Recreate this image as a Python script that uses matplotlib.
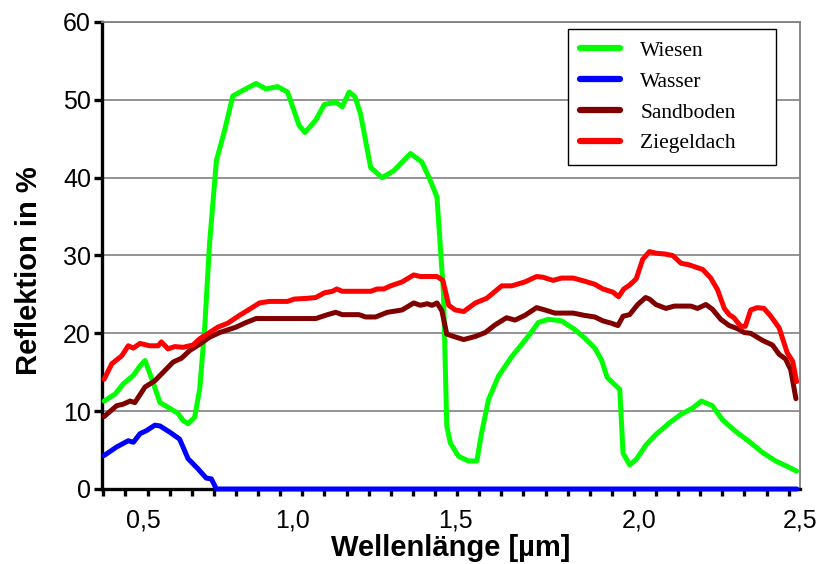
import numpy as np
import matplotlib
matplotlib.use('Agg')
import matplotlib.pyplot as plt

plt.rcParams['font.family'] = ['Liberation Sans', 'DejaVu Sans']

# Spectral reflectance curves (wavelength in µm, reflectance in %)
wiesen_wl = [0.370, 0.407, 0.434, 0.468, 0.490, 0.507, 0.534, 0.557, 0.584, 0.618,
             0.634, 0.651, 0.673, 0.690, 0.707, 0.723, 0.746, 0.773, 0.801, 0.834,
             0.879, 0.912, 0.951, 0.984, 1.021, 1.039, 1.072, 1.098, 1.133, 1.153,
             1.174, 1.192, 1.209, 1.240, 1.275, 1.311, 1.362, 1.397, 1.423, 1.443,
             1.463, 1.473, 1.484, 1.508, 1.535, 1.558, 1.571, 1.590, 1.617, 1.653,
             1.698, 1.726, 1.753, 1.789, 1.825, 1.852, 1.880, 1.898, 1.914, 1.948,
             1.957, 1.975, 1.993, 2.023, 2.053, 2.095, 2.131, 2.167, 2.194, 2.228,
             2.259, 2.300, 2.342, 2.383, 2.424, 2.455, 2.489]
wiesen = [11.3, 12.2, 13.5, 14.6, 15.8, 16.5, 13.7, 11.1, 10.5, 9.7,
          8.8, 8.4, 9.2, 12.8, 20.8, 31.5, 42.2, 46.0, 50.5, 51.2,
          52.1, 51.4, 51.7, 51.0, 46.7, 45.8, 47.4, 49.4, 49.7, 49.1,
          51.0, 50.4, 48.2, 41.3, 40.0, 40.9, 43.1, 42.0, 39.6, 37.5,
          25.1, 8.1, 5.9, 4.2, 3.6, 3.6, 7.2, 11.5, 14.5, 17.0,
          19.6, 21.4, 21.8, 21.6, 20.5, 19.4, 18.1, 16.6, 14.3, 12.8,
          4.6, 3.1, 3.8, 5.7, 7.0, 8.5, 9.6, 10.4, 11.3, 10.7,
          8.9, 7.4, 6.1, 4.7, 3.6, 3.0, 2.3]

wasser_wl = [0.370, 0.412, 0.451, 0.468, 0.490, 0.512, 0.540, 0.557, 0.590, 0.623,
             0.651, 0.684, 0.712, 0.729, 0.746, 2.490]
wasser = [4.3, 5.4, 6.2, 6.0, 7.1, 7.5, 8.2, 8.1, 7.3, 6.4,
          3.9, 2.6, 1.4, 1.3, 0.0, 0.0]

sand_wl = [0.370, 0.412, 0.434, 0.457, 0.473, 0.507, 0.540, 0.573, 0.601, 0.629,
           0.657, 0.690, 0.723, 0.757, 0.812, 0.846, 0.879, 1.072, 1.108, 1.133,
           1.153, 1.204, 1.225, 1.255, 1.291, 1.336, 1.372, 1.392, 1.413, 1.428,
           1.443, 1.458, 1.473, 1.494, 1.522, 1.554, 1.581, 1.608, 1.639, 1.662,
           1.689, 1.721, 1.744, 1.771, 1.821, 1.852, 1.880, 1.902, 1.925, 1.943,
           1.957, 1.975, 1.997, 2.021, 2.033, 2.053, 2.084, 2.110, 2.161, 2.182,
           2.208, 2.228, 2.254, 2.280, 2.306, 2.327, 2.347, 2.383, 2.414, 2.435,
           2.455, 2.471, 2.487]
sand = [9.3, 10.7, 10.9, 11.3, 11.1, 13.1, 13.9, 15.2, 16.3, 16.8,
        17.8, 18.6, 19.5, 20.1, 20.8, 21.4, 21.9, 21.9, 22.4, 22.7,
        22.4, 22.4, 22.1, 22.1, 22.7, 23.0, 23.9, 23.6, 23.8, 23.6,
        23.9, 22.9, 19.9, 19.6, 19.2, 19.6, 20.1, 21.1, 22.0, 21.7,
        22.3, 23.3, 23.0, 22.6, 22.6, 22.3, 22.1, 21.6, 21.3, 21.0,
        22.2, 22.4, 23.7, 24.6, 24.4, 23.7, 23.2, 23.5, 23.5, 23.2,
        23.7, 23.1, 21.8, 21.0, 20.6, 20.1, 20.0, 19.1, 18.5, 17.3,
        16.7, 15.3, 11.6]

ziegel_wl = [0.370, 0.396, 0.429, 0.451, 0.468, 0.490, 0.523, 0.551, 0.562, 0.584,
             0.607, 0.634, 0.668, 0.690, 0.723, 0.751, 0.784, 0.823, 0.857, 0.890,
             0.923, 0.984, 1.006, 1.047, 1.072, 1.098, 1.123, 1.136, 1.153, 1.240,
             1.260, 1.280, 1.301, 1.336, 1.372, 1.392, 1.443, 1.461, 1.479, 1.499,
             1.522, 1.554, 1.585, 1.626, 1.653, 1.689, 1.721, 1.739, 1.766, 1.789,
             1.821, 1.852, 1.880, 1.902, 1.929, 1.945, 1.959, 1.975, 1.993, 2.012,
             2.033, 2.053, 2.079, 2.105, 2.131, 2.156, 2.198, 2.223, 2.244, 2.265,
             2.280, 2.295, 2.316, 2.330, 2.347, 2.367, 2.388, 2.409, 2.435, 2.460,
             2.477, 2.489]
ziegel = [14.1, 16.1, 17.1, 18.4, 18.1, 18.7, 18.4, 18.4, 18.9, 18.0,
          18.3, 18.2, 18.5, 19.3, 20.1, 20.8, 21.3, 22.3, 23.1, 23.9,
          24.1, 24.1, 24.4, 24.5, 24.6, 25.2, 25.4, 25.7, 25.4, 25.4,
          25.7, 25.7, 26.1, 26.6, 27.5, 27.3, 27.3, 26.8, 23.6, 23.0,
          22.8, 23.9, 24.5, 26.1, 26.1, 26.6, 27.3, 27.2, 26.8, 27.1,
          27.1, 26.7, 26.3, 25.7, 25.3, 24.7, 25.7, 26.2, 27.0, 29.5,
          30.5, 30.3, 30.2, 30.0, 29.0, 28.8, 28.2, 27.1, 25.6, 23.2,
          22.4, 22.0, 20.9, 20.9, 23.0, 23.3, 23.2, 22.2, 20.7, 17.5,
          16.4, 13.8]

series_names = ['Wiesen', 'Wasser', 'Sandboden', 'Ziegeldach']
series_colors = ['#00ff00', '#0000ff', '#800000', '#ff0000']

# x tick labels; the original (Excel) axis is not linear in wavelength,
# so the labels sit at uneven distances along the axis
tick_wl = [0.5, 1.0, 1.5, 2.0, 2.5]
tick_labels = ['0,5', '1,0', '1,5', '2,0', '2,5']
tick_pos = [143, 293, 457, 641, 803]

# piecewise-linear axis, extended at both ends
anchor_wl = [0.0] + tick_wl + [3.0]
anchor_pos = [tick_pos[0] - 150] + tick_pos + [tick_pos[-1] + 162]


def forward(x):
    return np.interp(x, anchor_wl, anchor_pos)


def inverse(u):
    return np.interp(u, anchor_pos, anchor_wl)


fig = plt.figure(figsize=(8.3, 5.64), dpi=100)
ax = fig.add_axes([0.123, 0.133, 0.841, 0.828])

data = [(wiesen_wl, wiesen), (wasser_wl, wasser), (sand_wl, sand), (ziegel_wl, ziegel)]
for (wl, val), name, col in zip(data, series_names, series_colors):
    ax.plot(wl, val, color=col, lw=3.6, label=name, solid_joinstyle='round',
            solid_capstyle='round', clip_on=False, zorder=3)

ax.set_xscale('function', functions=(forward, inverse))
ax.set_xlim(inverse(102), inverse(800))
ax.set_ylim(0, 60)

# gridlines and frame
ax.set_yticks(np.arange(0, 61, 10))
ax.yaxis.grid(True, color='#808080', lw=1.2)
ax.set_axisbelow(True)
for side in ['top', 'right']:
    ax.spines[side].set_color('#808080')
    ax.spines[side].set_linewidth(1.3)
for side in ['left', 'bottom']:
    ax.spines[side].set_color('black')
    ax.spines[side].set_linewidth(2.4)

ax.tick_params(axis='y', which='major', direction='out', length=6, width=2.4,
               labelsize=18, pad=2)
ax.set_xticks(tick_wl)
ax.set_xticklabels(tick_labels)
ax.set_xticks(inverse(np.arange(103.3, 795, 22.2)), minor=True)
ax.tick_params(axis='x', which='major', length=0, labelsize=18, pad=14)
ax.tick_params(axis='x', which='minor', direction='out', length=5, width=2.4)

ax.set_xlabel('Wellenlänge [µm]', fontsize=21, fontweight='bold', labelpad=1)
ax.set_ylabel('Reflektion in %', fontsize=21, fontweight='bold')
ax.yaxis.set_label_coords(-0.085, 0.467)

leg = ax.legend(loc='upper left', bbox_to_anchor=(0.6676, 0.6916, 0.298, 0.2934),
                mode='expand', borderaxespad=0,
                prop={'family': 'Liberation Serif', 'size': 15.5}, fancybox=False,
                framealpha=1, edgecolor='black', handlelength=1.85,
                handletextpad=0.95, labelspacing=0.5, borderpad=0.55)
leg.get_frame().set_linewidth(1.0)
for line in leg.get_lines():
    line.set_linewidth(4.5)

fig.savefig('out.png', dpi=100)
